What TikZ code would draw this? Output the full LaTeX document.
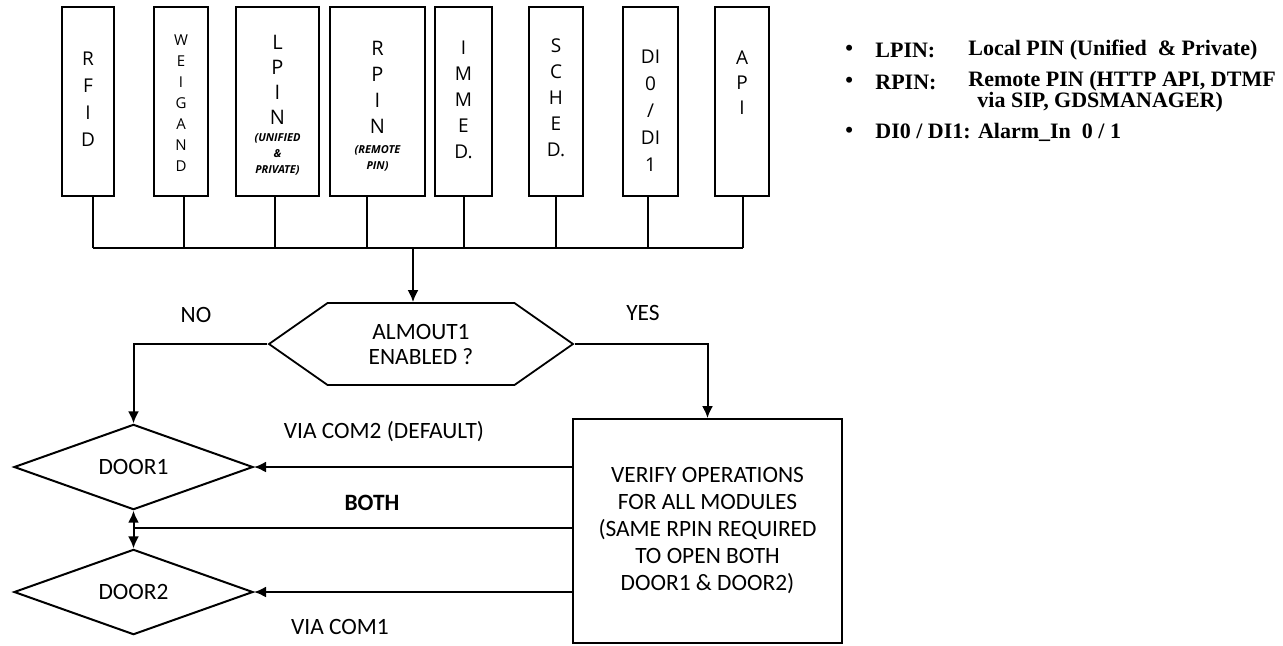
\documentclass[tikz,border=0pt]{standalone}
\usepackage{fontspec}
\setmainfont{Carlito}
\newfontfamily\modfont{Open Sans}
\newfontfamily\legfont{Liberation Serif}
\usetikzlibrary{arrows.meta,positioning,shapes.geometric,shapes.symbols,calc}
\tikzset{
  modbox/.style={draw,line width=1pt,minimum height=94.5pt,inner sep=0pt},
  modtxt/.style={align=center,inner sep=0pt},
  subtxt/.style={align=center,inner sep=0pt,
    font=\modfont\bfseries\itshape\fontsize{5.5}{8}\selectfont},
  decision/.style={signal,signal to=west and east,signal pointer angle=70,
    draw,line width=0.9pt,minimum width=152pt,minimum height=41pt,
    inner sep=0pt,align=center,font=\fontsize{11.7}{12.5}\selectfont},
  door/.style={diamond,draw,line width=1pt,minimum width=119.5pt,
    minimum height=36pt,inner sep=0pt,font=\fontsize{11.7}{13}\selectfont},
  process/.style={draw,line width=0.9pt,minimum width=134.5pt,
    minimum height=112pt,align=center,font=\fontsize{11.7}{13.5}\selectfont},
  lbl/.style={inner sep=0pt,font=\fontsize{11.7}{13}\selectfont},
  legendtxt/.style={anchor=west,inner sep=0pt,
    font=\legfont\bfseries\fontsize{11}{10.5}\selectfont},
  wire/.style={line width=1pt},
  arrow/.style={-{Latex[length=6pt,width=5.5pt]},line width=1pt}
}
\begin{document}
\begin{tikzpicture}[x=0.5pt,y=-0.5pt]
\useasboundingbox (0,0) rectangle (1283,645);
% input modules
\foreach \n/\xl/\xr/\ty/\fs/\ls/\t in {
    rfid/62/114/99/9.5/13.5/{R\\F\\I\\D},
    weigand/154/208/103/7.5/10.5/{W\\E\\I\\G\\A\\N\\D},
    lpin/236/319/80/10/12.5/{L\\P\\I\\N},
    rpin/330/425/87/10/13/{R\\P\\I\\N},
    immed/435/492/100/9.5/13/{I\\M\\M\\E\\D.},
    sched/529/583/98/9.5/13/{S\\C\\H\\E\\D.},
    dio/623/678/111/9.5/13.5/{DI\\0\\/\\DI\\1},
    api/715/769/83/9.5/12.5/{A\\P\\I}}{
  \node[modbox,minimum width={(\xr-\xl)*0.5pt}] (\n) at ({(\xl+\xr)/2},101.5) {};
  \node[modtxt,font=\modfont\fontsize{\fs}{\ls}\selectfont] (\n-t)
    at ({(\xl+\xr)/2},\ty) {\t};
}
\node[subtxt] (lpin-s) at (277.5,154) {(UNIFIED\\\&\\PRIVATE)};
\node[subtxt] (rpin-s) at (377.5,158.5) {(REMOTE\\PIN)};

% bus
\coordinate (bus) at (413,248);
\foreach \n/\so in {rfid/2.5,weigand/1.5,lpin/-1.25,rpin/-5.25,
    immed/0,sched/0,dio/-1.25,api/0.5}
  \draw[wire] ([xshift=\so pt]\n.south) -- ([xshift=\so pt]\n.south |- bus);
\draw[wire] ([xshift=2.5pt]rfid.south |- bus) -- ([xshift=0.5pt]api.south |- bus);

% flow
\node[decision] (alm) at (421,344) {ALMOUT1\\ENABLED ?};
\node[door] (door1) at (133.5,467) {DOOR1};
\node[door] (door2) at (133.5,592) {DOOR2};
\node[process] (verify) at (707.5,531) {VERIFY OPERATIONS\\FOR ALL MODULES\\
  (SAME RPIN REQUIRED\\TO OPEN BOTH\\DOOR1 \& DOOR2)};
\coordinate (both) at (133.5,528);

\draw[arrow] (bus) -- (bus |- alm.north);
\draw[arrow] (alm.west) -| (door1.north);
\draw[arrow] (alm.east) -| (verify.north);
\draw[arrow] (verify.west |- door1) -- (door1.east);
\draw[wire] (verify.west |- both) -- (both);
\draw[arrow] (both) -- (door1.south);
\draw[arrow] (both) -- (door2.north);
\draw[arrow] (verify.west |- door2) -- (door2.east);

\node[lbl] (no) at (196,315) {NO};
\node[lbl] (yes) at (643,313) {YES};
\node[lbl] (com2) at (384,432) {VIA COM2 (DEFAULT)};
\node[lbl,font=\bfseries\fontsize{11.7}{13}\selectfont] (bothlbl) at (372,503) {BOTH};
\node[lbl] (com1) at (340,627) {VIA COM1};

% legend
\foreach \y in {50,82,132}
  \node[legendtxt] (bul\y) at (845,\y) {\textbullet};
\node[legendtxt] (lpin-k) at (875,50) {LPIN:};
\node[legendtxt] (lpin-d) at (968,50) {Local PIN (Unified \ \& Private)};
\node[legendtxt] (rpin-k) at (875,82) {RPIN:};
\node[legendtxt,align=left] (rpin-d) at (968,92)
  {Remote PIN (HTTP API, DTMF\\\hspace*{4.5pt}via SIP, GDSMANAGER)};
\node[legendtxt] (dio-k) at (875,132) {DI0 / DI1: Alarm\_In \ 0 / 1};
\end{tikzpicture}
\end{document}
